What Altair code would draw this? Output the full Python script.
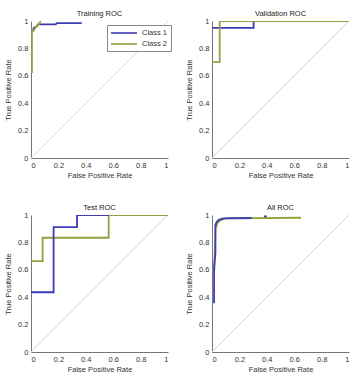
import altair as alt
import pandas as pd

# ROC curve points (false positive rate, true positive rate) per data split
train_c1_fpr = [0.0, 0.015, 0.02, 0.04, 0.05, 0.18, 0.19, 0.37]
train_c1_tpr = [0.93, 0.93, 0.95, 0.96, 0.975, 0.975, 0.985, 0.985]
train_c2_fpr = [0.007, 0.007, 0.02, 0.03, 0.05, 0.06, 0.07]
train_c2_tpr = [0.62, 0.93, 0.93, 0.95, 0.97, 0.98, 1.0]

val_c1_fpr = [0.0, 0.304, 0.304]
val_c1_tpr = [0.95, 0.95, 1.0]
val_c2_fpr = [0.0, 0.056, 0.056, 1.0]
val_c2_tpr = [0.70, 0.70, 1.0, 1.0]

test_c1_fpr = [0.0, 0.165, 0.165, 0.336, 0.336, 0.567]
test_c1_tpr = [0.436, 0.436, 0.912, 0.912, 1.0, 1.0]
test_c2_fpr = [0.0, 0.085, 0.085, 0.567, 0.567, 1.0]
test_c2_tpr = [0.664, 0.664, 0.834, 0.834, 1.0, 1.0]

all_c1_fpr = [0.015, 0.015, 0.025, 0.025, 0.035, 0.05, 0.08, 0.29]
all_c1_tpr = [0.355, 0.62, 0.72, 0.93, 0.95, 0.965, 0.975, 0.978]
all_c1_tail_fpr = [0.38, 0.40]
all_c1_tail_tpr = [0.99, 0.99]
all_c2_fpr = [0.018, 0.02, 0.025, 0.04, 0.06, 0.10, 0.65]
all_c2_tpr = [0.60, 0.72, 0.90, 0.94, 0.96, 0.975, 0.98]

classes = ["Class 1", "Class 2"]
class_colors = ["#3c3cb4", "#96a03c"]
tick_vals = [0, 0.2, 0.4, 0.6, 0.8, 1]
diag = pd.DataFrame({"fpr": [0, 1], "tpr": [0, 1]})

FONT = "Liberation Sans"
FS = 7.5
SIDE = 137


def curve(fpr_tpr_segments, cls):
    rows = []
    for seg, (fx, ty) in enumerate(fpr_tpr_segments):
        for i, (a, b) in enumerate(zip(fx, ty)):
            rows.append({"fpr": a, "tpr": b, "cls": cls, "seg": seg, "idx": i})
    return pd.DataFrame(rows)


def axis_style(title_pad):
    return dict(values=tick_vals, format="~g", grid=False, ticks=False,
                domainColor="#777", labelColor="#333", titleColor="#333",
                labelFont=FONT, titleFont=FONT, labelFontSize=FS,
                titleFontSize=FS, titleFontWeight="normal",
                labelPadding=3, titlePadding=title_pad)


def panel(title, layers_in_order, show_legend=False):
    x = alt.X("fpr:Q", title="False Positive Rate",
              scale=alt.Scale(domain=[0, 1], nice=False, zero=False),
              axis=alt.Axis(**axis_style(3)))
    y = alt.Y("tpr:Q", title="True Positive Rate",
              scale=alt.Scale(domain=[0, 1], nice=False, zero=False),
              axis=alt.Axis(**axis_style(5)))
    base_diag = alt.Chart(diag).mark_line(color="#d4d4d4", strokeWidth=1).encode(x=x, y=y)
    legend = None
    if show_legend:
        # a long horizontal stroke as the legend swatch, on a compact row
        legend = alt.Legend(title=None, orient="none", legendX=76, legendY=4,
                            symbolType="M-1,0H5.5", symbolStrokeWidth=1.6, symbolSize=64,
                            labelFont=FONT, labelFontSize=FS, labelColor="#333",
                            strokeColor="#888", fillColor="white", padding=3,
                            rowPadding=2, labelOffset=22)
    lines = []
    for df in layers_in_order:
        lines.append(
            alt.Chart(df).mark_line(strokeWidth=1.8, clip=True).encode(
                x=x, y=y,
                color=alt.Color("cls:N", scale=alt.Scale(domain=classes, range=class_colors),
                                legend=legend),
                detail="seg:N",
                order="idx:Q",
            )
        )
    return alt.layer(base_diag, *lines).properties(
        width=SIDE, height=SIDE,
        title=alt.TitleParams(title, font=FONT, fontSize=FS, fontWeight="normal",
                              color="#222", offset=0),
    )


train1 = curve([(train_c1_fpr, train_c1_tpr)], "Class 1")
train2 = curve([(train_c2_fpr, train_c2_tpr)], "Class 2")
val1 = curve([(val_c1_fpr, val_c1_tpr)], "Class 1")
val2 = curve([(val_c2_fpr, val_c2_tpr)], "Class 2")
test1 = curve([(test_c1_fpr, test_c1_tpr)], "Class 1")
test2 = curve([(test_c2_fpr, test_c2_tpr)], "Class 2")
all1 = curve([(all_c1_fpr, all_c1_tpr), (all_c1_tail_fpr, all_c1_tail_tpr)], "Class 1")
all2 = curve([(all_c2_fpr, all_c2_tpr)], "Class 2")

p1 = panel("Training ROC", [train1, train2], show_legend=True)
p2 = panel("Validation ROC", [val1, val2])
p3 = panel("Test ROC", [test2, test1])
p4 = panel("All ROC", [all2, all1])

chart = alt.vconcat(
    alt.hconcat(p1, p2, spacing=15),
    alt.hconcat(p3, p4, spacing=15),
    spacing=24,
).resolve_legend(color="independent").properties(
    padding={"left": 4, "top": 9, "right": 2, "bottom": 2},
    background="white",
).configure_view(stroke=None)

chart.save("out.html", embed_options={"renderer": "svg", "actions": False})
